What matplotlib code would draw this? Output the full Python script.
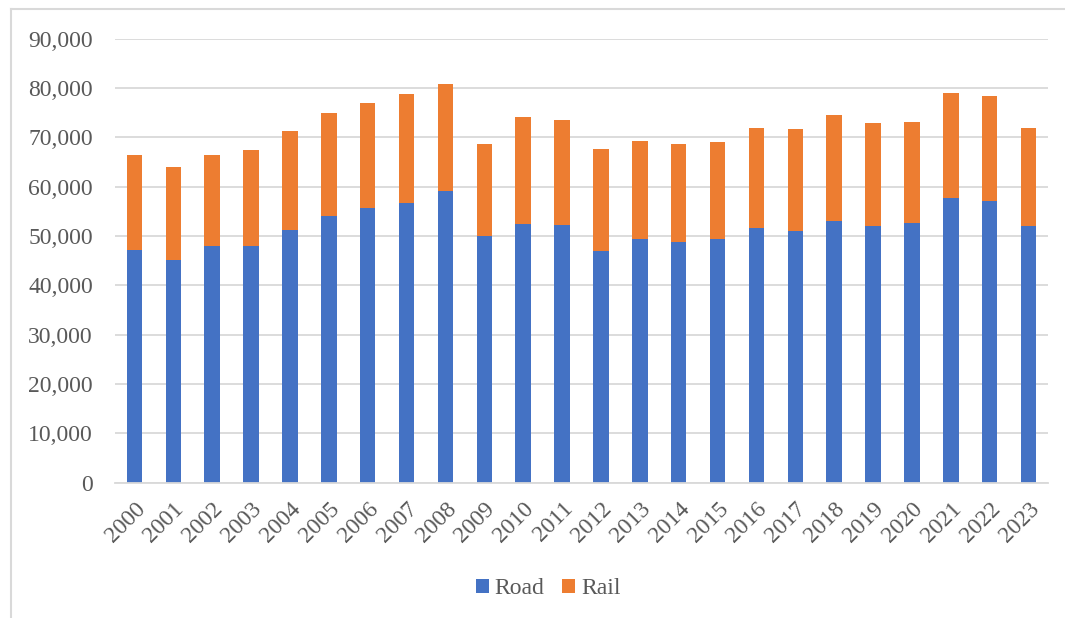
import numpy as np
import matplotlib
matplotlib.use("Agg")
import matplotlib.pyplot as plt
from matplotlib.lines import Line2D
from matplotlib.ticker import FuncFormatter

years = [str(y) for y in range(2000, 2024)]
road = [47100, 45200, 47900, 47900, 51300, 54000, 55600, 56700, 59100, 50000,
        52400, 52300, 47000, 49300, 48700, 49400, 51600, 51000, 53100, 52000,
        52600, 57700, 57200, 52100]
total = [66400, 64000, 66400, 67400, 71300, 74900, 76900, 78800, 80800, 68700,
         74100, 73500, 67600, 69200, 68700, 69100, 71800, 71700, 74500, 72900,
         73100, 79000, 78300, 71800]
rail = [t - r for t, r in zip(total, road)]

plt.rcParams['font.family'] = ['Liberation Serif', 'DejaVu Serif']
text_grey = '#595959'

fig = plt.figure(figsize=(10.65, 6.18), dpi=100)
ax = fig.add_axes([115 / 1065, 1 - 482.7 / 618, 933 / 1065, (482.7 - 38.7) / 618])

x = np.arange(len(years))
ax.bar(x, road, width=0.4, color='#4472C4', label='Road', zorder=3)
ax.bar(x, rail, width=0.4, bottom=road, color='#ED7D31', label='Rail', zorder=3)

ax.set_xlim(-0.5, len(years) - 0.5)
ax.set_ylim(0, 90000)
ax.set_yticks(np.arange(0, 90001, 10000))
ax.yaxis.set_major_formatter(FuncFormatter(lambda v, p: f'{int(v):,}'))
ax.grid(axis='y', color='#D9D9D9', linewidth=1.3, zorder=0)

for s in ['top', 'right', 'left']:
    ax.spines[s].set_visible(False)
ax.spines['bottom'].set_color('#D9D9D9')
ax.spines['bottom'].set_linewidth(1.3)
ax.spines['bottom'].set_zorder(4)

ax.tick_params(axis='both', length=0, labelsize=17, labelcolor=text_grey)
ax.tick_params(axis='y', pad=16)
ax.set_xticks(x)
ax.set_xticklabels(years, rotation=45, ha='right', rotation_mode='anchor')
ax.tick_params(axis='x', pad=11)

fig.legend(loc='center', bbox_to_anchor=(548 / 1065, 1 - 589 / 618), ncol=2,
           frameon=False, fontsize=17, labelcolor=text_grey,
           handlelength=0.55, handleheight=0.55, handletextpad=0.25,
           columnspacing=0.75)

# thin grey frame along the top and left edges
fig.add_artist(Line2D([11 / 1065, 11 / 1065], [0, 1 - 9 / 618],
                      transform=fig.transFigure, color='#D9D9D9', linewidth=1.5))
fig.add_artist(Line2D([11 / 1065, 1], [1 - 9 / 618, 1 - 9 / 618],
                      transform=fig.transFigure, color='#D9D9D9', linewidth=1.5))

fig.savefig('out.png', dpi=100)
